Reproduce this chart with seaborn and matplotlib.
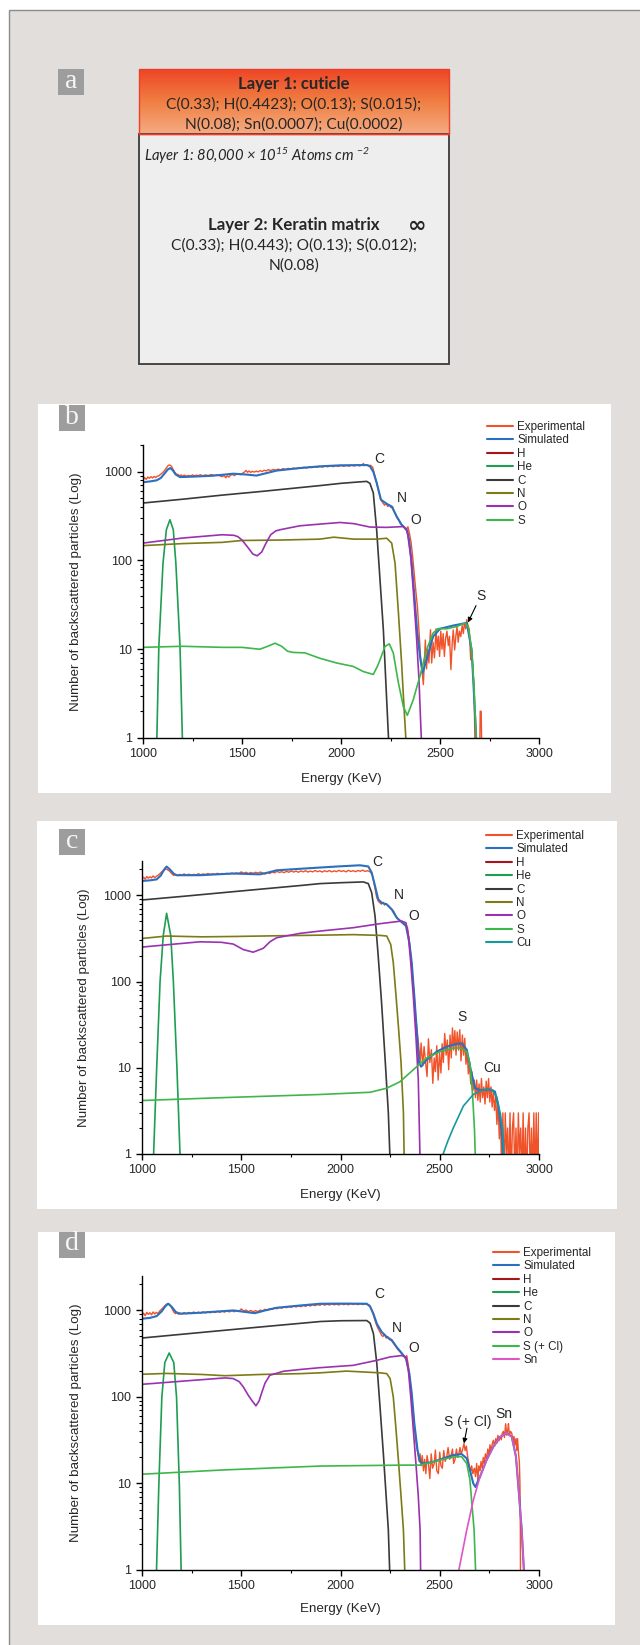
import numpy as np
import pandas as pd
import matplotlib
matplotlib.use("Agg")
import matplotlib.pyplot as plt
from matplotlib.patches import Rectangle
from matplotlib.lines import Line2D
from matplotlib.colors import LinearSegmentedColormap
from matplotlib.ticker import FixedLocator, FuncFormatter, LogLocator, MultipleLocator, NullFormatter
import seaborn as sns

# ---------------------------------------------------------------- data
# spectra: (energy keV, counts)

# panel b
B_EXP = [(1000, 800), (1008, 860), (1016, 820), (1024, 870), (1032, 845), (1040, 880), (1048, 850), (1056, 885),
         (1064, 860), (1072, 890), (1080, 900), (1090, 940), (1100, 980), (1110, 1040), (1120, 1120), (1128, 1180),
         (1136, 1190), (1144, 1150), (1152, 1060), (1160, 990), (1168, 940), (1176, 930), (1184, 905), (1192, 920),
         (1200, 895), (1210, 915), (1220, 890), (1230, 910), (1240, 895), (1250, 920), (1260, 900), (1270, 915),
         (1280, 905), (1290, 925), (1300, 900), (1315, 920), (1330, 905), (1345, 930), (1360, 910), (1375, 925),
         (1390, 895), (1400, 880), (1410, 905), (1418, 855), (1426, 900), (1434, 870), (1442, 915), (1452, 930),
         (1462, 905), (1472, 935), (1482, 945), (1492, 925), (1502, 960), (1512, 990), (1520, 1035), (1528, 985),
         (1536, 1020), (1544, 980), (1552, 1010), (1562, 990), (1572, 1015), (1582, 995), (1592, 1030), (1602, 1005),
         (1612, 1040), (1622, 1020), (1632, 1055), (1645, 1030), (1658, 1060), (1670, 1040), (1682, 1070),
         (1695, 1050), (1708, 1085), (1720, 1060), (1733, 1090), (1746, 1075), (1760, 1100), (1773, 1080),
         (1786, 1110), (1800, 1095), (1813, 1125), (1826, 1100), (1840, 1135), (1853, 1110), (1866, 1140),
         (1880, 1120), (1893, 1150), (1906, 1125), (1920, 1160), (1933, 1135), (1946, 1165), (1960, 1140),
         (1973, 1170), (1986, 1145), (2000, 1180), (2013, 1150), (2026, 1175), (2040, 1155), (2053, 1185),
         (2066, 1160), (2080, 1190), (2093, 1165), (2106, 1185), (2113, 1240), (2120, 1170), (2130, 1200),
         (2140, 1175), (2150, 1180), (2160, 1120), (2170, 920), (2180, 760), (2190, 600), (2200, 490), (2210, 450),
         (2220, 420), (2228, 440), (2236, 405), (2244, 420), (2252, 395), (2260, 405), (2268, 360), (2276, 330),
         (2284, 300), (2292, 285), (2300, 260), (2310, 250), (2320, 235), (2330, 225), (2338, 240), (2346, 200),
         (2354, 160), (2362, 110), (2370, 70), (2378, 45), (2386, 30), (2394, 16), (2402, 8), (2410, 5.5),
         (2416, 4), (2422, 8), (2426, 12.7), (2432, 6), (2438, 10), (2444, 7), (2452, 16.6), (2458, 7), (2465, 12),
         (2472, 8), (2480, 17), (2486, 9.8), (2492, 14), (2498, 8.3), (2504, 16), (2510, 10), (2516, 15),
         (2522, 8.3), (2528, 13), (2535, 16), (2542, 11), (2548, 14), (2555, 5.9), (2562, 12), (2567, 16.5),
         (2574, 9.8), (2580, 14), (2586, 18), (2592, 12), (2598, 16), (2605, 13.9), (2612, 18.5), (2618, 15),
         (2623, 19.7), (2630, 17), (2635, 21.5), (2642, 18), (2648, 16.6), (2655, 7.6), (2660, 9), (2664, 7),
         (2668, 5), (2672, 4), (2678, 0.5), (2700, 0.5), (2703, 2.0), (2708, 2.0), (2712, 0.5), (2760, 0.5)]
B_SIM = [(1000, 760), (1040, 780), (1069, 800), (1090, 850), (1110, 960), (1125, 1060), (1138, 1100), (1150, 1040),
         (1165, 930), (1187, 870), (1250, 880), (1350, 900), (1456, 950), (1520, 930), (1573, 905), (1620, 960),
         (1675, 1030), (1793, 1100), (1894, 1150), (1995, 1180), (2130, 1190), (2146, 1150), (2163, 1000),
         (2180, 750), (2202, 483), (2231, 435), (2256, 406), (2281, 314), (2306, 253), (2332, 222), (2344, 171),
         (2357, 94), (2371, 39), (2384, 16.6), (2399, 8.3), (2412, 5.4), (2432, 7.6), (2465, 13.9), (2500, 17),
         (2567, 18.5), (2635, 19.8), (2660, 9.8), (2672, 3), (2685, 0.8)]
B_HE = [(1069, 0.8), (1080, 10.7), (1101, 93), (1118, 222), (1136, 288), (1153, 222), (1166, 93), (1187, 10.7),
        (1200, 0.8)]
B_C = [(1000, 444), (1200, 490), (1400, 545), (1600, 600), (1800, 665), (1900, 700), (2000, 740), (2100, 770),
       (2130, 778), (2146, 740), (2163, 578), (2180, 222), (2197, 60.6), (2214, 16.5), (2230, 2.9), (2242, 0.8)]
B_N = [(1000, 147), (1200, 155), (1400, 160), (1500, 168), (1700, 170), (1894, 174), (1963, 183), (2065, 174),
       (2180, 174), (2231, 178), (2256, 157), (2273, 93), (2290, 25.8), (2306, 7), (2320, 1.9), (2330, 0.8)]
B_O = [(1000, 157), (1200, 179), (1400, 195), (1460, 192), (1480, 185), (1500, 170), (1530, 140), (1555, 118),
       (1577, 113), (1600, 125), (1620, 155), (1645, 195), (1670, 215), (1692, 222), (1793, 246), (1894, 257),
       (1995, 268), (2065, 260), (2146, 238), (2231, 236), (2315, 241), (2335, 213), (2352, 111), (2365, 46.6),
       (2382, 13), (2394, 4.5), (2404, 1.2), (2408, 0.8)]
B_S = [(1000, 10.5), (1200, 10.8), (1400, 10.5), (1500, 10.5), (1590, 10.0), (1630, 10.8), (1667, 11.7),
       (1700, 10.8), (1730, 9.5), (1759, 9.2), (1818, 9.1), (1894, 7.9), (1978, 7.0), (2062, 6.4), (2113, 5.6),
       (2163, 5.2), (2185, 6.5), (2197, 7.6), (2222, 10.7), (2244, 11.5), (2264, 9.1), (2290, 4.17), (2315, 2.26),
       (2335, 1.8), (2365, 2.7), (2399, 5.0), (2432, 9.85), (2465, 15.2), (2490, 17.1), (2533, 17), (2584, 18),
       (2626, 19.7), (2643, 18), (2660, 9.85), (2672, 3.6), (2685, 0.8)]

# panel c
C_EXP = [(1000, 1560), (1008, 1620), (1016, 1540), (1024, 1650), (1032, 1580), (1040, 1640), (1048, 1590),
         (1056, 1680), (1064, 1600), (1072, 1660), (1080, 1700), (1090, 1780), (1100, 1880), (1110, 1950),
         (1120, 2010), (1128, 1990), (1136, 1930), (1144, 1850), (1152, 1760), (1160, 1700), (1170, 1740),
         (1180, 1690), (1190, 1750), (1200, 1710), (1212, 1770), (1224, 1720), (1236, 1760), (1248, 1700),
         (1260, 1750), (1272, 1720), (1284, 1780), (1296, 1730), (1308, 1770), (1320, 1740), (1332, 1790),
         (1344, 1745), (1356, 1780), (1368, 1750), (1380, 1800), (1392, 1760), (1404, 1790), (1416, 1755),
         (1428, 1800), (1440, 1770), (1452, 1810), (1464, 1775), (1476, 1820), (1488, 1790), (1500, 1870),
         (1512, 1800), (1524, 1850), (1536, 1790), (1548, 1840), (1560, 1800), (1572, 1850), (1584, 1810),
         (1596, 1860), (1608, 1820), (1620, 1760), (1632, 1830), (1644, 1790), (1656, 1870), (1668, 1820),
         (1680, 1900), (1692, 1840), (1704, 1880), (1716, 1830), (1728, 1900), (1740, 1850), (1752, 1920),
         (1764, 1860), (1776, 1910), (1788, 1850), (1800, 1920), (1812, 1870), (1824, 1930), (1836, 1860),
         (1848, 1910), (1860, 1870), (1872, 1940), (1884, 1880), (1896, 1920), (1908, 1860), (1920, 1930),
         (1932, 1880), (1944, 1940), (1956, 1870), (1968, 1920), (1980, 1880), (1992, 1950), (2004, 1890),
         (2016, 1930), (2028, 1870), (2040, 1950), (2052, 1890), (2064, 1930), (2076, 1880), (2088, 1940),
         (2100, 1900), (2112, 1960), (2124, 1890), (2136, 1930), (2148, 1880), (2158, 1760), (2166, 1500),
         (2174, 1200), (2182, 950), (2190, 860), (2198, 820), (2206, 790), (2214, 830), (2222, 770), (2230, 800),
         (2238, 760), (2246, 740), (2254, 700), (2262, 680), (2270, 640), (2280, 570), (2290, 530), (2300, 505),
         (2310, 480), (2320, 470), (2330, 455), (2338, 420), (2346, 300), (2354, 200), (2362, 120), (2370, 75),
         (2378, 40), (2385, 28), (2392, 20), (2401, 11.5), (2406, 19.4), (2414, 10.5), (2421, 17.6), (2428, 12),
         (2436, 7.9), (2443, 21.7), (2450, 11.5), (2458, 16.2), (2465, 6.6), (2472, 13), (2478, 9), (2485, 18),
         (2492, 7.2), (2499, 15), (2506, 8.7), (2512, 19), (2518, 11.5), (2525, 25), (2532, 14), (2538, 21),
         (2545, 9.5), (2552, 24), (2558, 13), (2564, 29), (2570, 16), (2576, 27), (2582, 14), (2588, 26),
         (2595, 16), (2601, 27.6), (2607, 12), (2614, 24), (2620, 14), (2626, 22), (2632, 11), (2638, 15),
         (2644, 8.5), (2650, 11), (2656, 6.5), (2662, 9), (2668, 5.5), (2674, 7.2), (2680, 4.5), (2686, 7.2),
         (2692, 4.2), (2698, 6.5), (2704, 4), (2710, 7.5), (2716, 4.5), (2722, 6), (2728, 3.8), (2734, 7),
         (2740, 4.5), (2746, 7.5), (2752, 4), (2758, 6), (2764, 3.5), (2770, 5.5), (2776, 3.2), (2782, 4.5),
         (2788, 2.2), (2794, 4), (2800, 1.5), (2806, 3), (2812, 0.5), (2818, 3), (2824, 0.5), (2830, 3),
         (2836, 1), (2842, 2), (2848, 0.5), (2854, 3), (2860, 0.5), (2866, 2), (2872, 3), (2878, 0.5), (2884, 2),
         (2890, 0.5), (2896, 3), (2902, 1), (2908, 2), (2914, 0.5), (2920, 3), (2926, 0.5), (2932, 2),
         (2938, 0.5), (2944, 2), (2950, 3), (2956, 0.5), (2962, 2), (2968, 0.5), (2974, 3), (2980, 0.5),
         (2986, 3), (2992, 0.5), (2998, 3), (3000, 0.5)]
C_SIM = [(1000, 1469), (1040, 1490), (1074, 1530), (1095, 1700), (1112, 2000), (1124, 2155), (1140, 2000),
         (1160, 1780), (1175, 1710), (1292, 1710), (1460, 1790), (1594, 1750), (1640, 1850), (1678, 1950),
         (1796, 2030), (1897, 2100), (2000, 2170), (2098, 2230), (2140, 2160), (2157, 1835), (2174, 1283),
         (2190, 898), (2207, 822), (2233, 786), (2258, 687), (2283, 550), (2308, 490), (2330, 440), (2347, 281),
         (2359, 165), (2372, 67), (2384, 27.6), (2395, 11.5), (2406, 10.3), (2434, 12.4), (2485, 15.4),
         (2535, 17.6), (2585, 18.9), (2611, 19.2), (2636, 16.2), (2656, 9.5), (2678, 5.8), (2703, 5.5),
         (2753, 5.6), (2778, 5.3), (2795, 3.6), (2812, 1.9), (2822, 0.8)]
C_HE = [(1057, 0.8), (1074, 10), (1091, 100), (1107, 340), (1124, 618), (1145, 340), (1158, 100), (1176, 10),
        (1193, 0.8)]
C_C = [(1000, 883), (1200, 970), (1400, 1070), (1600, 1180), (1800, 1300), (1897, 1367), (2000, 1400),
       (2115, 1430), (2140, 1367), (2157, 1075), (2174, 575), (2190, 197), (2207, 56.5), (2224, 13.4),
       (2241, 3.0), (2250, 0.8)]
C_N = [(1000, 316), (1124, 337), (1300, 330), (1460, 333), (1700, 340), (1897, 345), (2064, 350), (2199, 343),
       (2233, 337), (2253, 269), (2266, 165), (2280, 67), (2293, 27.6), (2305, 11.5), (2317, 3.0), (2321, 0.8)]
C_O = [(1000, 251), (1150, 270), (1292, 289), (1400, 285), (1460, 272), (1510, 235), (1560, 219), (1611, 243),
       (1645, 290), (1678, 322), (1796, 362), (1897, 385), (2064, 421), (2199, 469), (2308, 503), (2330, 480),
       (2342, 337), (2354, 165), (2367, 67), (2380, 23), (2392, 7.2), (2401, 0.8)]
C_S = [(1000, 4.17), (1400, 4.5), (1897, 4.9), (2150, 5.2), (2233, 5.8), (2300, 6.9), (2367, 9.5), (2434, 13),
       (2502, 15.4), (2568, 16.9), (2602, 17), (2636, 15.4), (2652, 11.3), (2666, 4.6), (2675, 1.9), (2680, 0.8)]
C_CU = [(2510, 0.9), (2540, 1.4), (2568, 2.0), (2619, 3.6), (2669, 4.9), (2720, 5.6), (2762, 5.6), (2787, 4.6),
        (2804, 3.0), (2817, 1.9), (2825, 0.8)]

# panel d
D_EXP = [(1000, 880), (1008, 930), (1016, 870), (1024, 950), (1032, 900), (1040, 940), (1048, 890), (1056, 960),
         (1064, 910), (1072, 950), (1080, 920), (1090, 990), (1100, 1040), (1110, 1100), (1120, 1160),
         (1128, 1200), (1136, 1190), (1144, 1130), (1152, 1040), (1160, 960), (1168, 920), (1176, 940),
         (1184, 905), (1192, 935), (1200, 910), (1212, 945), (1224, 915), (1236, 950), (1248, 920), (1260, 960),
         (1272, 925), (1284, 955), (1296, 930), (1308, 965), (1320, 935), (1332, 970), (1344, 940), (1356, 975),
         (1368, 945), (1380, 980), (1392, 950), (1404, 985), (1416, 955), (1428, 990), (1440, 960), (1452, 995),
         (1464, 965), (1476, 1000), (1488, 975), (1500, 1040), (1512, 985), (1524, 1010), (1536, 970),
         (1548, 1000), (1560, 965), (1572, 995), (1584, 970), (1596, 1010), (1608, 990), (1620, 1030),
         (1632, 1005), (1644, 1050), (1656, 1030), (1668, 1070), (1680, 1045), (1692, 1085), (1704, 1060),
         (1716, 1100), (1728, 1075), (1740, 1110), (1752, 1085), (1764, 1125), (1776, 1095), (1788, 1130),
         (1800, 1105), (1812, 1145), (1824, 1115), (1836, 1150), (1848, 1125), (1860, 1165), (1872, 1135),
         (1884, 1170), (1896, 1145), (1908, 1190), (1920, 1150), (1932, 1180), (1944, 1155), (1956, 1195),
         (1968, 1160), (1980, 1185), (1992, 1155), (2004, 1200), (2016, 1165), (2028, 1190), (2040, 1160),
         (2052, 1205), (2064, 1170), (2076, 1195), (2088, 1165), (2100, 1200), (2112, 1170), (2124, 1195),
         (2136, 1175), (2146, 1150), (2156, 1020), (2166, 880), (2176, 740), (2186, 640), (2196, 580),
         (2206, 520), (2214, 500), (2222, 530), (2230, 480), (2238, 500), (2246, 460), (2256, 450), (2266, 420),
         (2276, 390), (2286, 360), (2296, 340), (2306, 320), (2316, 300), (2326, 285), (2334, 300), (2342, 230),
         (2350, 150), (2358, 100), (2366, 60), (2374, 40), (2382, 28), (2390, 22), (2396, 18), (2401, 22),
         (2406, 16), (2412, 21), (2418, 14), (2424, 19), (2430, 13), (2436, 21), (2443, 17), (2450, 11.4),
         (2457, 22), (2464, 15), (2472, 17), (2478, 24.4), (2485, 14), (2493, 13), (2500, 23), (2506, 16),
         (2513, 15), (2520, 24), (2527, 18), (2535, 20), (2542, 26), (2550, 19), (2557, 21), (2564, 25),
         (2570, 17), (2577, 19), (2584, 25), (2590, 20), (2596, 22), (2602, 26), (2608, 22), (2614, 24),
         (2622, 29), (2628, 24), (2634, 27), (2641, 20), (2647, 17), (2652, 15), (2656, 14), (2661, 16),
         (2666, 13), (2670, 14), (2675, 15), (2680, 12), (2686, 17), (2692, 11), (2697, 16), (2703, 14),
         (2708, 18), (2714, 15), (2719, 20), (2724, 17), (2730, 22), (2736, 19), (2742, 25), (2748, 21),
         (2753, 28), (2759, 24), (2765, 29), (2770, 31.6), (2776, 27), (2782, 33), (2787, 29), (2793, 36),
         (2798, 31), (2804, 35), (2810, 32), (2815, 38), (2820, 40), (2826, 34), (2832, 49), (2838, 36),
         (2843, 42), (2846, 49), (2851, 36), (2857, 40), (2863, 38), (2868, 31), (2874, 35), (2879, 28),
         (2884, 33), (2888, 24), (2892, 33), (2897, 22), (2901, 18), (2904, 10), (2906, 3), (2907, 0.5)]
D_SIM = [(1000, 802), (1040, 820), (1074, 860), (1100, 980), (1118, 1120), (1132, 1195), (1150, 1100),
         (1170, 960), (1191, 916), (1292, 940), (1460, 1000), (1520, 960), (1569, 930), (1620, 1000),
         (1678, 1073), (1796, 1140), (1897, 1195), (2000, 1200), (2132, 1195), (2149, 1112), (2166, 916),
         (2183, 702), (2208, 562), (2233, 493), (2258, 455), (2283, 377), (2308, 322), (2330, 277), (2347, 186),
         (2359, 110), (2372, 49.4), (2388, 24.4), (2401, 17.8), (2418, 17), (2468, 17.8), (2518, 19.5),
         (2568, 21.3), (2610, 21.9), (2636, 19.5), (2652, 14.3), (2669, 10.0), (2680, 9.1), (2694, 10.9),
         (2703, 12), (2736, 18.7), (2770, 26.6), (2804, 34.5), (2837, 38.5), (2863, 34.5), (2884, 20.4),
         (2900, 7.1), (2913, 2.9), (2926, 0.8)]
D_HE = [(1072, 0.8), (1085, 10), (1100, 100), (1115, 250), (1137, 322), (1160, 250), (1174, 100), (1188, 10),
        (1198, 0.8)]
D_C = [(1000, 480), (1200, 530), (1400, 585), (1600, 645), (1800, 710), (1900, 745), (2000, 760), (2132, 764),
       (2149, 714), (2166, 539), (2183, 243), (2199, 77), (2216, 22), (2230, 7.1), (2241, 2.9), (2249, 0.8)]
D_N = [(1000, 183), (1124, 187), (1300, 182), (1418, 176), (1600, 182), (1800, 186), (1897, 190), (2031, 199),
       (2199, 190), (2233, 186), (2250, 163), (2266, 100), (2280, 41.3), (2293, 17), (2305, 7.1), (2317, 2.9),
       (2325, 0.8)]
D_O = [(1000, 140), (1200, 152), (1418, 166), (1460, 163), (1490, 150), (1510, 131), (1535, 105), (1552, 92),
       (1574, 79), (1590, 90), (1602, 110), (1620, 145), (1644, 178), (1712, 198), (1800, 208), (1897, 218),
       (2064, 232), (2183, 265), (2250, 290), (2308, 301), (2330, 290), (2342, 203), (2354, 100), (2367, 41.3),
       (2380, 17), (2392, 7.1), (2401, 2.9), (2404, 0.8)]
D_S = [(1000, 12.8), (1400, 14.3), (1897, 15.9), (2317, 16.3), (2401, 16.3), (2468, 17.8), (2535, 19.5),
       (2585, 20.4), (2610, 20.4), (2636, 17), (2652, 11), (2666, 4.5), (2673, 2.9), (2682, 0.8)]
D_SN = [(2588, 0.8), (2636, 2.9), (2669, 6.4), (2703, 12), (2736, 18.7), (2770, 26.6), (2804, 34.5),
        (2837, 38.5), (2863, 34.5), (2884, 20.4), (2900, 7.1), (2913, 2.9), (2926, 0.8)]

Y_TICKS = [1, 10, 100, 1000]
X_TICKS = [1000, 1500, 2000, 2500, 3000]

CUTICLE_TEXT = ["C(0.33); H(0.4423); O(0.13); S(0.015);", "N(0.08); Sn(0.0007); Cu(0.0002)"]
MATRIX_TEXT = ["C(0.33); H(0.443); O(0.13); S(0.012);", "N(0.08)"]

# ---------------------------------------------------------------- style
COL = {
    "Experimental": "#f0522a",
    "Simulated": "#2a6fc0",
    "H": "#a8141c",
    "He": "#1e9e52",
    "C": "#3a3a3a",
    "N": "#7d7a17",
    "O": "#9a32b0",
    "S": "#3db74c",
    "S (+ Cl)": "#3db74c",
    "Cu": "#17999b",
    "Sn": "#e055c4",
}
LW = {"Experimental": 1.0, "Simulated": 1.5}

W, H = 640, 1645
BG = "#e1dedb"

sns.set_style("ticks")
plt.rcParams["font.family"] = ["Liberation Sans", "DejaVu Sans"]
plt.rcParams["mathtext.default"] = "regular"

fig = plt.figure(figsize=(W / 100, H / 100), dpi=100)
fig.patch.set_facecolor("white")

# background canvas in pixel coordinates
ax0 = fig.add_axes([0, 0, 1, 1])
ax0.set_xlim(0, W)
ax0.set_ylim(H, 0)
ax0.axis("off")
ax0.add_patch(Rectangle((9, 10), 700, 1700, fc=BG, ec="#8c8c8c", lw=1.0))


def tag(letter, x, y):
    ax0.add_patch(Rectangle((x, y), 26, 26, fc="#9d9d9d", ec="none", zorder=3))
    ax0.text(x + 13, y + 12, letter, ha="center", va="center", color="#f6f6f6",
             fontsize=20, family="Liberation Serif", zorder=4)


# ---------------------------------------------------------------- panel a
box_font = ["Lato", "DejaVu Sans"]
grad = LinearSegmentedColormap.from_list("hdr", ["#ee4526", "#f07f43", "#f5ab82"])
ax0.imshow(np.linspace(0, 1, 64).reshape(-1, 1), cmap=grad, aspect="auto",
           extent=(139, 449, 134, 69), zorder=2)
ax0.set_xlim(0, W)
ax0.set_ylim(H, 0)
ax0.add_patch(Rectangle((139, 69), 310, 65, fc="none", ec="#e8402a", lw=1.0, zorder=3))
ax0.add_patch(Rectangle((139, 134), 310, 230, fc="#edeeed", ec="#3a3a3a", lw=1.3, zorder=2))
ax0.plot([139, 449], [134, 134], color="#e8402a", lw=1.0, zorder=3)
tag("a", 58, 69)

ax0.text(294, 84, "Layer 1: cuticle", ha="center", va="center", fontsize=12,
         fontweight="bold", family=box_font, zorder=4)
ax0.text(294, 105, CUTICLE_TEXT[0], ha="center", va="center", fontsize=11.2, family=box_font, zorder=4)
ax0.text(294, 125, CUTICLE_TEXT[1], ha="center", va="center", fontsize=11.2, family=box_font, zorder=4)
ax0.text(144, 156, r"Layer 1: 80,000 × 10$^{15}$ Atoms cm $^{-2}$", ha="left", va="center",
         fontsize=10.6, style="italic", family=box_font, zorder=4)
ax0.text(294, 225, "Layer 2: Keratin matrix", ha="center", va="center", fontsize=12.2,
         fontweight="bold", family=box_font, zorder=4)
ax0.text(417, 226, "∞", ha="center", va="center", fontsize=16, fontweight="bold",
         family=["DejaVu Sans"], zorder=4)
ax0.text(294, 246, MATRIX_TEXT[0], ha="center", va="center", fontsize=11.2, family=box_font, zorder=4)
ax0.text(294, 266, MATRIX_TEXT[1], ha="center", va="center", fontsize=11.2, family=box_font, zorder=4)


# ---------------------------------------------------------------- spectra panels
def spectrum_panel(card, plot_box, ymax, curves, legend_at, notes, arrow, ylab_x, lab_y):
    cx0, cy0, cx1, cy1 = card
    ax0.add_patch(Rectangle((cx0, cy0), cx1 - cx0, cy1 - cy0, fc="white", ec="none", zorder=1))

    x0, y0, x1, y1 = plot_box
    ax = fig.add_axes([x0 / W, 1 - y1 / H, (x1 - x0) / W, (y1 - y0) / H])
    ax.set_facecolor("none")
    ax.set_yscale("log")

    handles, labels = [], []
    for name, pts in curves:
        col = COL[name]
        lw = LW.get(name, 1.2)
        if pts:
            df = pd.DataFrame(pts, columns=["energy", "counts"])
            sns.lineplot(data=df, x="energy", y="counts", ax=ax, color=col, linewidth=lw,
                         estimator=None, sort=False, legend=False)
        handles.append(Line2D([], [], color=col, lw=1.5))
        labels.append(name)

    ax.set_xlim(1000, 3000)
    ax.set_ylim(1, ymax)
    ax.xaxis.set_major_locator(FixedLocator(X_TICKS))
    ax.xaxis.set_minor_locator(MultipleLocator(250))
    ax.yaxis.set_major_locator(FixedLocator(Y_TICKS))
    ax.yaxis.set_major_formatter(FuncFormatter(lambda v, p: f"{v:g}"))
    ax.yaxis.set_minor_locator(LogLocator(base=10, subs=range(2, 10)))
    ax.yaxis.set_minor_formatter(NullFormatter())
    ax.tick_params(which="major", direction="out", length=4, width=1, labelsize=9, color="black")
    ax.tick_params(axis="x", which="major", pad=3)
    ax.tick_params(axis="y", which="major", pad=4)
    ax.tick_params(which="minor", direction="out", length=2.5, width=0.8, color="black")
    for s in ["top", "right"]:
        ax.spines[s].set_visible(False)
    for s in ["left", "bottom"]:
        ax.spines[s].set_color("black")
        ax.spines[s].set_linewidth(1.0)

    ax.set_xlabel("Energy (KeV)", fontsize=9.6)
    ax.xaxis.set_label_coords(0.5, -(lab_y - y1) / (y1 - y0))
    ax.xaxis.label.set_va("center")
    ax.set_ylabel("Number of backscattered particles (Log)", fontsize=9.6)
    ax.yaxis.set_label_coords(-(x0 - ylab_x) / (x1 - x0), 0.5)
    ax.yaxis.label.set_va("center")

    lx, ly = legend_at
    ax.legend(handles, labels, loc="upper left", bbox_to_anchor=(lx / W, 1 - ly / H),
              bbox_transform=fig.transFigure, frameon=False, fontsize=8.4, handlelength=2.25,
              handletextpad=0.35, labelspacing=0.12, borderpad=0, borderaxespad=0)

    for text, ex, cnt in notes:
        ax.text(ex, cnt, text, ha="center", va="center", fontsize=10)
    if arrow is not None:
        tail, head = arrow
        ax.annotate("", xy=head, xytext=tail,
                    arrowprops=dict(arrowstyle="-|>", color="black", lw=0.8,
                                    mutation_scale=7, shrinkA=0, shrinkB=0))
    return ax


# b
spectrum_panel((38, 404, 611, 793), (143, 445, 539, 738), 2000,
               [("Experimental", B_EXP), ("Simulated", B_SIM), ("H", []), ("He", B_HE),
                ("C", B_C), ("N", B_N), ("O", B_O), ("S", B_S)],
               (487, 421),
               [("C", 2192, 1400), ("N", 2308, 509), ("O", 2379, 288), ("S", 2707, 40)],
               ((2682, 31), (2641, 20)), 76, 779)
tag("b", 59, 405)

# c
spectrum_panel((37, 821, 617, 1209), (142, 861, 539, 1154), 2500,
               [("Experimental", C_EXP), ("Simulated", C_SIM), ("H", []), ("He", C_HE),
                ("C", C_C), ("N", C_N), ("O", C_O), ("S", C_S), ("Cu", C_CU)],
               (486, 830),
               [("C", 2184, 2420), ("N", 2295, 1000), ("O", 2370, 570), ("S", 2612, 39), ("Cu", 2763, 10)],
               None, 84, 1195)
tag("c", 59, 829)

# d
spectrum_panel((38, 1232, 615, 1625), (142, 1276, 539, 1570), 2500,
               [("Experimental", D_EXP), ("Simulated", D_SIM), ("H", []), ("He", D_HE),
                ("C", D_C), ("N", D_N), ("O", D_O), ("S (+ Cl)", D_S), ("Sn", D_SN)],
               (493, 1247),
               [("C", 2194, 1530), ("N", 2285, 620), ("O", 2370, 365), ("S (+ Cl)", 2642, 51),
                ("Sn", 2821, 63)],
               ((2637, 43.6), (2622, 29)), 76, 1609)
tag("d", 59, 1232)

fig.savefig("out.png", dpi=100, facecolor=fig.get_facecolor())
